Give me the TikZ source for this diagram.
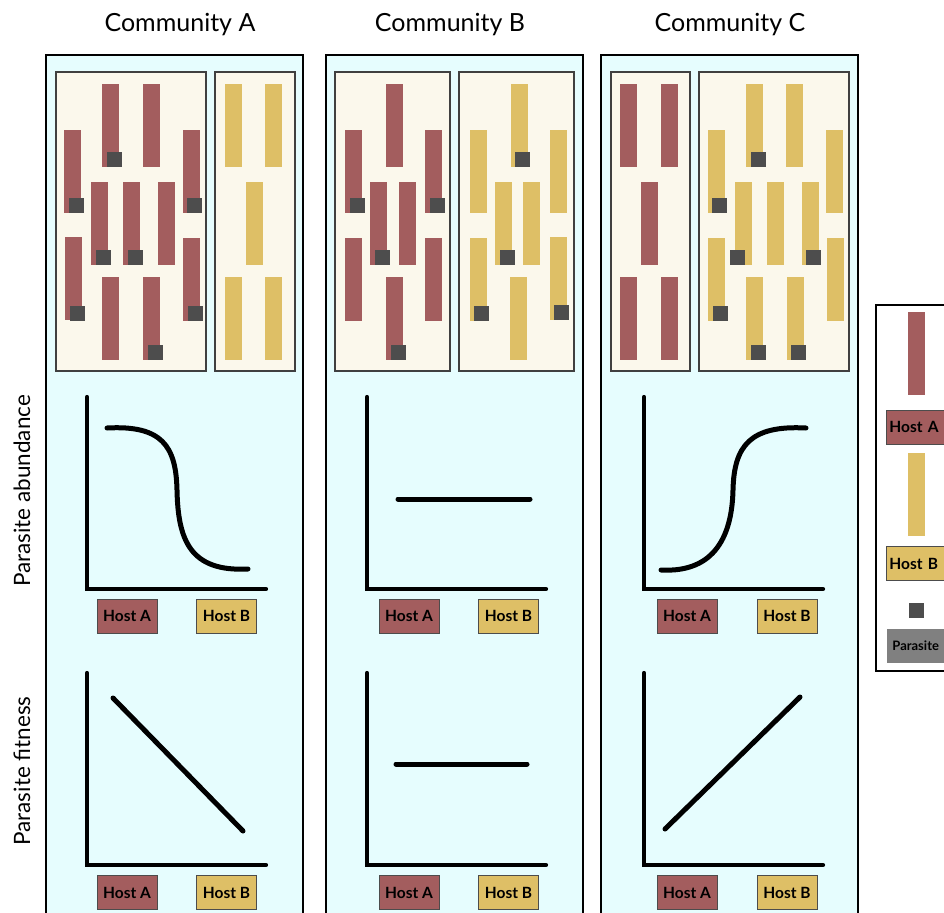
\documentclass[tikz,border=0pt]{standalone}
\usepackage{fontspec}
\setmainfont{Lato}
\definecolor{panelbg}{HTML}{E6FDFE}
\definecolor{boxbg}{HTML}{FBF8EC}
\definecolor{hostA}{HTML}{A35D5E}
\definecolor{hostB}{HTML}{DEBF66}
\definecolor{para}{HTML}{4D4D4D}
\definecolor{paralbl}{HTML}{808080}
\newcommand\ha[2]{\fill[hostA] (#1,#2) rectangle ++(17,83);}
\newcommand\hb[2]{\fill[hostB] (#1,#2) rectangle ++(17,83);}
\newcommand\pz[2]{\fill[para] (#1,#2) rectangle ++(15,15);}
\begin{document}
\begin{tikzpicture}[x=1pt,y=-1pt,
  panel/.style={draw=black,line width=2pt,fill=panelbg},
  hostbox/.style={draw=black!75,line width=1.3pt,fill=boxbg},
  axis/.style={line width=4.2pt,line cap=round},
  curve/.style={line width=5pt,line cap=round},
  lbl/.style={draw=black!70,line width=0.8pt,minimum width=60pt,minimum height=34pt,inner sep=0pt,font=\bfseries\fontsize{15.5}{15.5}\selectfont},
  title/.style={font=\fontsize{25}{25}\selectfont},
  ylab/.style={rotate=90,font=\fontsize{22.5}{22.5}\selectfont}]
\useasboundingbox (0,0) rectangle (944,912);
\fill[white] (0,0) rectangle (944,912);
% titles
\node[title] (tA) at (180,25) {Community A};
\node[title] (tB) at (450,25) {Community B};
\node[title] (tC) at (730,25) {Community C};
% panels
\draw[panel] (46,55) rectangle (303,918);
\draw[panel] (326,55) rectangle (583,918);
\draw[panel] (601,55) rectangle (858,918);
% y labels
\node[ylab] (yab) at (22,491) {Parasite abundance};
\node[ylab] (yfi) at (22,771) {Parasite fitness};
% ---------- Community A boxes
\draw[hostbox] (56,72) rectangle (206,371);
\draw[hostbox] (215,72) rectangle (295,371);
\ha{102}{84}\ha{143}{84}
\ha{64}{130}\ha{183}{130}
\ha{91}{182}\ha{123}{182}\ha{158}{182}
\ha{65}{237}\ha{183}{238}
\ha{102}{277}\ha{143}{277}
\pz{107}{152}\pz{69}{198}\pz{187}{198}\pz{96}{250}\pz{128}{250}
\pz{70}{306}\pz{188}{306}\pz{148}{345}
\hb{225}{84}\hb{265}{84}\hb{246}{182}\hb{225}{277}\hb{265}{277}
% ---------- Community B boxes
\draw[hostbox] (335,72) rectangle (450,371);
\draw[hostbox] (459,72) rectangle (574,371);
\ha{386}{84}
\ha{345}{130}\ha{425}{130}
\ha{370}{182}\ha{399}{182}
\ha{345}{238}\ha{425}{238}
\ha{386}{277}
\pz{350}{198}\pz{430}{198}\pz{375}{250}\pz{391}{345}
\hb{511}{84}
\hb{470}{130}\hb{550}{130}
\hb{495}{182}\hb{523}{182}
\hb{470}{238}\hb{550}{237}
\hb{510}{277}
\pz{515}{152}\pz{500}{250}\pz{474}{306}\pz{554}{305}
% ---------- Community C boxes
\draw[hostbox] (611,72) rectangle (690,371);
\draw[hostbox] (699,72) rectangle (849,371);
\ha{620}{84}\ha{661}{84}\ha{641}{182}\ha{620}{277}\ha{661}{277}
\hb{746}{84}\hb{786}{84}
\hb{708}{130}\hb{826}{130}
\hb{735}{182}\hb{767}{182}\hb{802}{182}
\hb{708}{238}\hb{827}{238}
\hb{746}{277}\hb{787}{277}
\pz{751}{152}\pz{712}{198}\pz{730}{250}\pz{806}{250}
\pz{713}{306}\pz{751}{345}\pz{791}{345}
% ---------- abundance plots
\draw[axis] (87,397) |- (266,589);
\draw[axis] (367,397) |- (546,589);
\draw[axis] (644,397) |- (823,589);
\draw[curve] (107,428) .. controls (162,425) and (176,446) .. (177,490)
  .. controls (178,540) and (190,572) .. (248,569);
\draw[curve] (398,499) -- (530,499);
\draw[curve] (661,570) .. controls (716,573) and (732,534) .. (733,490)
  .. controls (734,446) and (750,425) .. (806,428);
% ---------- fitness plots
\draw[axis] (87,673) |- (266,865);
\draw[axis] (367,673) |- (546,865);
\draw[axis] (644,673) |- (823,865);
\draw[curve] (113,698) -- (243,831);
\draw[curve] (396,764) -- (527,764);
\draw[curve] (665,829) -- (800,697);
% ---------- host labels
\node[lbl,fill=hostA] (a1A) at (127,616) {Host A};
\node[lbl,fill=hostB] (a1B) at (226.5,616) {Host B};
\node[lbl,fill=hostA] (b1A) at (409,616) {Host A};
\node[lbl,fill=hostB] (b1B) at (508.5,616) {Host B};
\node[lbl,fill=hostA] (c1A) at (687,616) {Host A};
\node[lbl,fill=hostB] (c1B) at (787,616) {Host B};
\node[lbl,fill=hostA] (a2A) at (127,892.5) {Host A};
\node[lbl,fill=hostB] (a2B) at (226.5,892.5) {Host B};
\node[lbl,fill=hostA] (b2A) at (409,892.5) {Host A};
\node[lbl,fill=hostB] (b2B) at (508.5,892.5) {Host B};
\node[lbl,fill=hostA] (c2A) at (687,892.5) {Host A};
\node[lbl,fill=hostB] (c2B) at (787,892.5) {Host B};
% ---------- legend
\draw[line width=2pt,fill=white] (876,305) rectangle (960,671);
\fill[hostA] (908,312) rectangle (925,395);
\node[lbl,fill=hostA,anchor=west,minimum width=64pt,text width=58pt,align=left] (lgA) at (886,427) {Host A};
\fill[hostB] (908,453) rectangle (925,536);
\node[lbl,fill=hostB,anchor=west,minimum width=64pt,text width=58pt,align=left] (lgB) at (886,563.5) {Host B};
\fill[para] (909,603) rectangle (924,618);
\node[lbl,fill=paralbl,draw=none,anchor=west,minimum width=64pt,text width=60pt,align=left,font=\bfseries\fontsize{13}{13}\selectfont] (lgP) at (887,646) {\hspace*{3pt}Parasite};
\end{tikzpicture}
\end{document}
